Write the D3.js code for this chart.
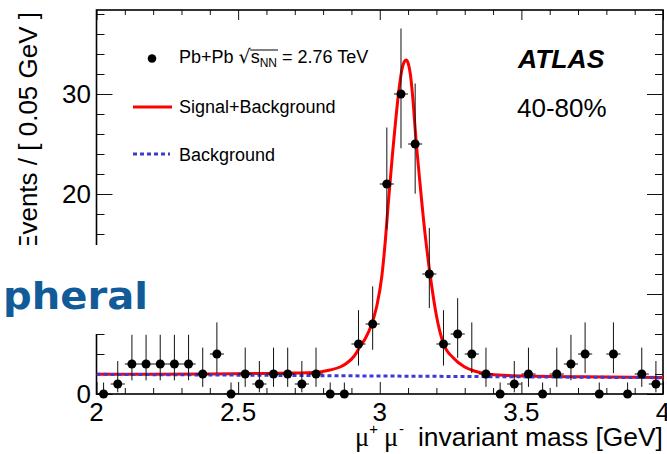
<!DOCTYPE html>
<html>
<head>
<meta charset="utf-8">
<script src="https://cdn.jsdelivr.net/npm/d3@7"></script>
<style>
  body { margin: 0; background: #fff; }
  svg { display: block; font-family: "Liberation Sans", Arial, sans-serif; }
</style>
</head>
<body>
<svg width="667" height="454"></svg>
<script>
// --- Data ---
const binCenters = [
    2.025, 2.075, 2.125, 2.175, 2.225, 2.275, 2.325, 2.375, 2.425, 2.475,
    2.525, 2.575, 2.625, 2.675, 2.725, 2.775, 2.825, 2.875, 2.925, 2.975,
    3.025, 3.075, 3.125, 3.175, 3.225, 3.275, 3.325, 3.375, 3.425, 3.475,
    3.525, 3.575, 3.625, 3.675, 3.725, 3.775, 3.825, 3.875, 3.925, 3.975
];
const binHalfWidth = 0.025;
const counts = [
    0, 1, 3, 3, 3, 3, 3, 2, 4, 0,
    2, 1, 2, 2, 1, 2, 0, 0, 5, 7,
    21, 30, 25, 12, 5, 6, 4, 2, 0, 1,
    2, 0, 2, 3, 4, 0, 4, 0, 2, 1
];
const errLow = [
    0, 0.83, 1.63, 1.63, 1.63, 1.63, 1.63, 1.29, 1.91, 0,
    1.29, 0.83, 1.29, 1.29, 0.83, 1.29, 0, 0, 2.16, 2.58,
    4.55, 5.43, 4.97, 3.41, 2.16, 2.38, 1.91, 1.29, 0, 0.83,
    1.29, 0, 1.29, 1.63, 1.91, 0, 1.91, 0, 1.29, 0.83
];
const errHigh = [
    1.15, 2.30, 2.92, 2.92, 2.92, 2.92, 2.92, 2.64, 3.16, 1.15,
    2.64, 2.30, 2.64, 2.64, 2.30, 2.64, 1.15, 1.15, 3.38, 3.77,
    5.65, 6.55, 6.05, 4.61, 3.38, 3.58, 3.16, 2.64, 1.15, 2.30,
    2.64, 1.15, 2.64, 2.92, 3.16, 1.15, 3.16, 1.15, 2.64, 2.30
];

// signal+background fit, points
const fitMass = [
    2.00, 2.40, 2.60, 2.70, 2.765, 2.824, 2.860, 2.883, 2.910, 2.930,
    2.950, 2.966, 2.989, 3.007, 3.019, 3.030, 3.045, 3.055, 3.066, 3.078,
    3.086, 3.093, 3.100, 3.108, 3.117, 3.127, 3.142, 3.160, 3.177, 3.201,
    3.224, 3.260, 3.300, 3.340, 3.378, 3.450, 3.550, 3.672, 3.800, 4.00
];
const fitValue = [
    1.98, 2.00, 2.05, 2.10, 2.15, 2.40, 2.70, 3.07, 3.80, 4.73,
    5.60, 6.57, 8.73, 11.7, 15.1, 19.0, 24.0, 27.0, 30.0, 32.4,
    33.2, 33.4, 33.1, 32.0, 29.5, 25.8, 21.1, 16.0, 12.1, 7.7,
    5.1, 3.6, 2.7, 2.25, 2.0, 1.85, 1.78, 1.73, 1.70, 1.65
];
// background-only fit
const bkgMass = [2.0, 4.0];
const bkgValue = [1.97, 1.63];

const xMajorTicks = [2, 2.5, 3, 3.5, 4];
const xTickLabels = ["2", "2.5", "3", "3.5", "4"];
const xMinorTicks = [2.1, 2.2, 2.3, 2.4, 2.6, 2.7, 2.8, 2.9, 3.1, 3.2, 3.3, 3.4, 3.6, 3.7, 3.8, 3.9];
const yMajorTicks = [0, 10, 20, 30];
const yLabelTicks = [0, 20, 30];   // the "10" label sits under the white patch
const yMinorTicks = [2, 4, 6, 8, 12, 14, 16, 18, 22, 24, 26, 28, 32, 34, 36, 38];

// --- Setup ---
const svg = d3.select("svg");
const plotLeft = 96.5, plotRight = 663, plotTop = 10, plotBottom = 394;

const x = d3.scaleLinear().domain([2, 4]).range([plotLeft, plotRight]);
const y = d3.scaleLinear().domain([0, 38.4]).range([plotBottom, plotTop]);

svg.append("defs").append("clipPath").attr("id", "plot-clip")
    .append("rect")
    .attr("x", plotLeft).attr("y", plotTop)
    .attr("width", plotRight - plotLeft).attr("height", plotBottom - plotTop);

// --- Axes / frame (ticks inward on all four sides) ---
function tickAxis(axis, translate) {
    const g = svg.append("g").attr("transform", translate).call(axis);
    g.select(".domain").remove();
    g.selectAll(".tick line").attr("stroke", "#111").attr("stroke-width", 1);
    return g;
}

tickAxis(d3.axisBottom(x).tickValues(xMajorTicks).tickSize(-12).tickFormat(""), `translate(0,${plotBottom})`);
tickAxis(d3.axisBottom(x).tickValues(xMinorTicks).tickSize(-6).tickFormat(""), `translate(0,${plotBottom})`);
tickAxis(d3.axisTop(x).tickValues(xMajorTicks).tickSize(-10).tickFormat(""), `translate(0,${plotTop})`);
tickAxis(d3.axisTop(x).tickValues(xMinorTicks).tickSize(-5).tickFormat(""), `translate(0,${plotTop})`);
tickAxis(d3.axisLeft(y).tickValues(yMajorTicks).tickSize(-16).tickFormat(""), `translate(${plotLeft},0)`);
tickAxis(d3.axisLeft(y).tickValues(yMinorTicks).tickSize(-8).tickFormat(""), `translate(${plotLeft},0)`);
tickAxis(d3.axisRight(y).tickValues(yMajorTicks).tickSize(-16).tickFormat(""), `translate(${plotRight},0)`);
tickAxis(d3.axisRight(y).tickValues(yMinorTicks).tickSize(-8).tickFormat(""), `translate(${plotRight},0)`);

svg.append("rect")
    .attr("x", plotLeft).attr("y", plotTop)
    .attr("width", plotRight - plotLeft).attr("height", plotBottom - plotTop)
    .attr("fill", "none").attr("stroke", "#000").attr("stroke-width", 1.6);

// tick labels
svg.append("g").selectAll("text")
    .data(xMajorTicks)
    .enter().append("text")
    .attr("x", d => x(d))
    .attr("y", 421)
    .attr("text-anchor", "middle")
    .attr("font-size", "26px")
    .text((d, i) => xTickLabels[i]);

svg.append("g").selectAll("text")
    .data(yLabelTicks)
    .enter().append("text")
    .attr("x", 91)
    .attr("y", d => y(d))
    .attr("dy", "0.36em")
    .attr("text-anchor", "end")
    .attr("font-size", "26px")
    .text(d => d);

// axis titles
const xTitle = svg.append("text")
    .attr("x", 355)
    .attr("y", 446)
    .attr("font-size", "26.4px");
xTitle.append("tspan").attr("font-family", "Liberation Serif, serif").text("\u03bc");
xTitle.append("tspan").attr("font-size", "15px").attr("dy", -12).text("+");
xTitle.append("tspan").attr("font-family", "Liberation Serif, serif").attr("dy", 12).attr("dx", 6).text("\u03bc");
xTitle.append("tspan").attr("font-size", "15px").attr("dy", -12).attr("dx", 1).text("-");
xTitle.append("tspan").attr("x", 418).attr("dy", 12).text("invariant mass [GeV]");

svg.append("text")
    .attr("transform", "translate(37,12) rotate(-90)")
    .attr("text-anchor", "end")
    .attr("font-size", "26px")
    .text("Events / [ 0.05 GeV ]");

// --- Curves ---
const line = d3.line()
    .x(d => x(d[0]))
    .y(d => y(d[1]))
    .curve(d3.curveMonotoneX);

const curves = svg.append("g").attr("clip-path", "url(#plot-clip)");

curves.append("path")
    .datum(fitMass.map((m, i) => [m, fitValue[i]]))
    .attr("d", line)
    .attr("fill", "none")
    .attr("stroke", "#ff0000")
    .attr("stroke-width", 3);

curves.append("path")
    .datum(bkgMass.map((m, i) => [m, bkgValue[i]]))
    .attr("d", line)
    .attr("fill", "none")
    .attr("stroke", "#3b3bd4")
    .attr("stroke-width", 3)
    .attr("stroke-dasharray", "4,3");

// --- Data points with error bars ---
const points = binCenters.map((m, i) => ({ m, n: counts[i], lo: errLow[i], hi: errHigh[i] }));

const pts = svg.append("g").attr("clip-path", "url(#plot-clip)");
pts.selectAll(".ey")
    .data(points)
    .enter().append("line")
    .attr("class", "ey")
    .attr("x1", d => x(d.m)).attr("x2", d => x(d.m))
    .attr("y1", d => y(d.n + d.hi)).attr("y2", d => y(d.n - d.lo))
    .attr("stroke", "#111").attr("stroke-width", 1);

pts.selectAll(".ex")
    .data(points)
    .enter().append("line")
    .attr("class", "ex")
    .attr("x1", d => x(d.m - binHalfWidth)).attr("x2", d => x(d.m + binHalfWidth))
    .attr("y1", d => y(d.n)).attr("y2", d => y(d.n))
    .attr("stroke", "#111").attr("stroke-width", 1);

svg.append("g").selectAll("circle")
    .data(points)
    .enter().append("circle")
    .attr("cx", d => x(d.m))
    .attr("cy", d => y(d.n))
    .attr("r", 4.5)
    .attr("fill", "#000");

// --- Legend ---
const legend = svg.append("g").attr("font-size", "18px");

legend.append("circle").attr("cx", 152).attr("cy", 58.5).attr("r", 4.3).attr("fill", "#000");
const dataLabel = legend.append("text").attr("x", 179).attr("y", 63);
dataLabel.append("tspan").text("Pb+Pb ");
dataLabel.append("tspan").attr("font-family", "DejaVu Sans, sans-serif").attr("font-size", "19px").text("\u221a");
dataLabel.append("tspan").text("s");
dataLabel.append("tspan").attr("font-size", "12px").attr("dy", 4).text("NN");
dataLabel.append("tspan").attr("dy", -4).text(" = 2.76 TeV");
// overline for the square root, from the end of the root sign to the end of "NN"
const dl = dataLabel.node();
const rootEnd = dl.getEndPositionOfChar(6).x;
const nnEnd = dl.getEndPositionOfChar(9).x;
legend.append("line")
    .attr("x1", rootEnd - 0.5).attr("x2", nnEnd + 1)
    .attr("y1", 50).attr("y2", 50)
    .attr("stroke", "#000").attr("stroke-width", 1);

legend.append("line")
    .attr("x1", 133).attr("x2", 172).attr("y1", 107).attr("y2", 107)
    .attr("stroke", "#ff0000").attr("stroke-width", 3);
legend.append("text").attr("x", 179).attr("y", 113).text("Signal+Background");

legend.append("line")
    .attr("x1", 133).attr("x2", 170).attr("y1", 154).attr("y2", 154)
    .attr("stroke", "#3b3bd4").attr("stroke-width", 3).attr("stroke-dasharray", "4,3");
legend.append("text").attr("x", 179).attr("y", 161).text("Background");

svg.append("text")
    .attr("x", 518).attr("y", 68)
    .attr("font-size", "26.5px").attr("font-weight", "bold").attr("font-style", "italic")
    .text("ATLAS");
svg.append("text")
    .attr("x", 517).attr("y", 117)
    .attr("font-size", "26px")
    .text("40-80%");

// --- Overlay: white patch with handwritten label ---
svg.append("rect")
    .attr("x", 0).attr("y", 245)
    .attr("width", 160).attr("height", 89)
    .attr("fill", "#fff");
svg.append("text")
    .attr("x", 3).attr("y", 309)
    .attr("font-family", "DejaVu Sans, sans-serif")
    .attr("font-weight", "bold")
    .attr("font-size", "38px")
    .attr("fill", "#115b98")
    .attr("textLength", 145)
    .attr("lengthAdjust", "spacingAndGlyphs")
    .text("pheral");
</script>
</body>
</html>
